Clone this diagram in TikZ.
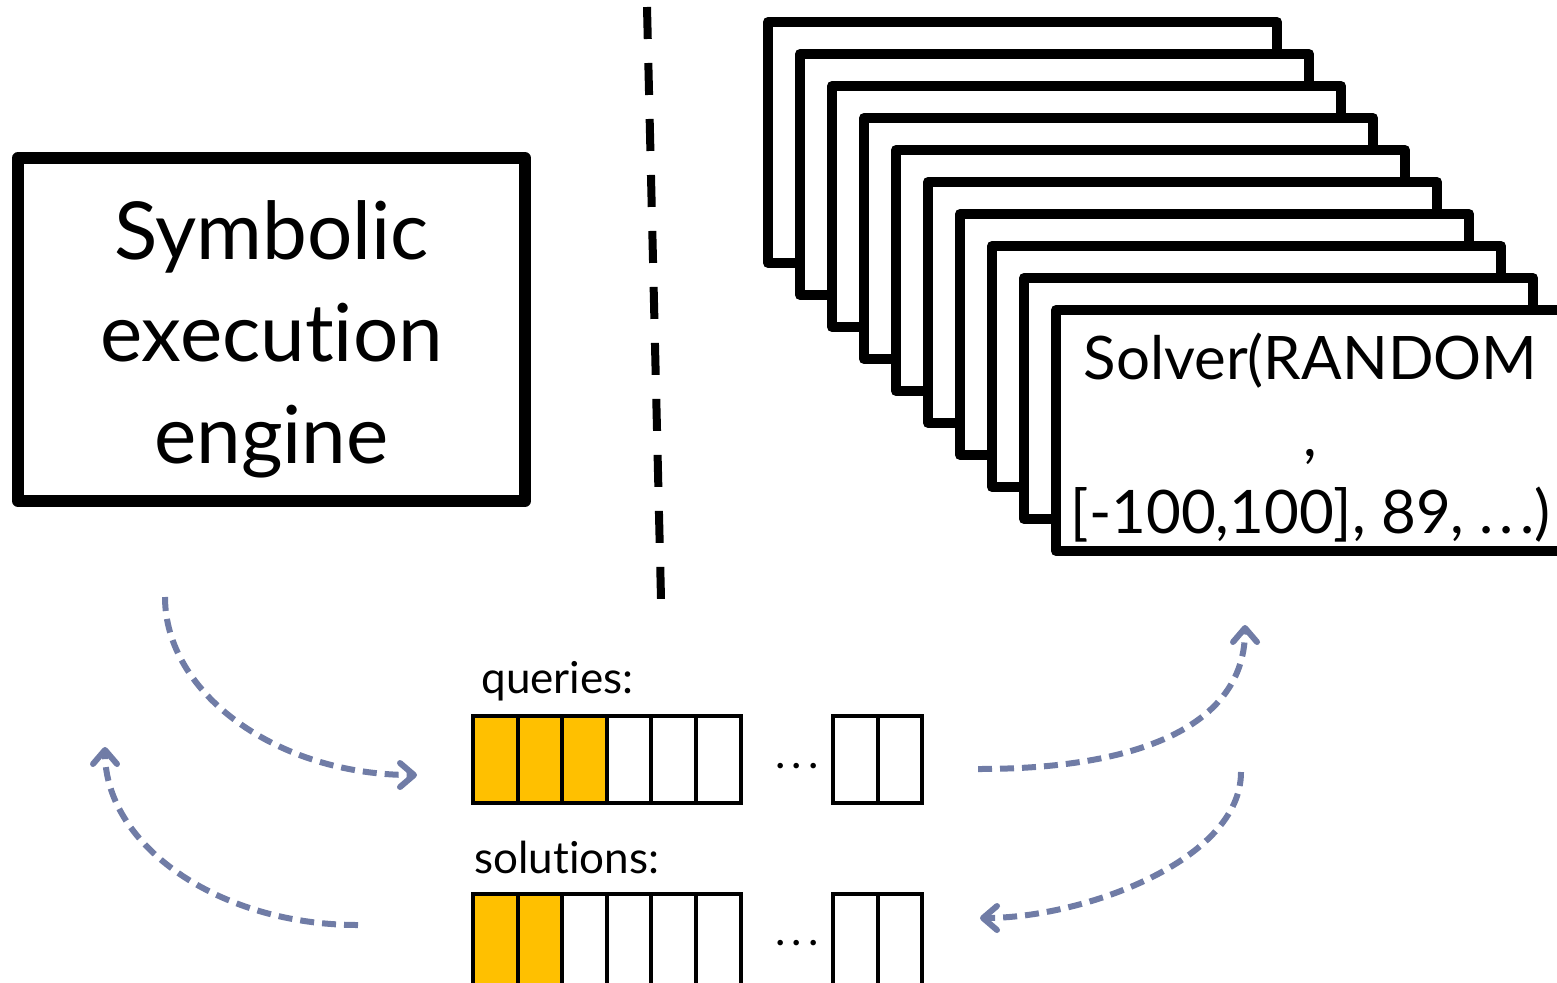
\documentclass[tikz,border=0pt]{standalone}
\usepackage{fontspec}
\setmainfont{Lato}[Ligatures=NoCommon]
\usetikzlibrary{arrows.meta}

\definecolor{qyellow}{RGB}{255,192,0}
\definecolor{flowblue}{RGB}{112,124,166}
\newcommand{\wdots}[1]{.\kern#1.\kern#1.}

\begin{document}
\begin{tikzpicture}[x=1pt,y=-1pt,
		card/.style={draw, fill=white, line width=10pt, line join=round, anchor=north west,
			outer sep=0pt, inner sep=0pt, minimum width=509pt, minimum height=241pt},
		cell/.style={draw, line width=4pt, anchor=north west, outer sep=0pt, inner sep=0pt,
			minimum width=44.6pt, minimum height=87pt},
		flow/.style={draw=flowblue, line width=6pt, dash pattern=on 14pt off 8pt,
			-{Straight Barb[length=14pt,width=24pt,round]}},
		tag/.style={anchor=base west, font=\fontsize{44}{50}\selectfont}]
	\useasboundingbox (0,0) rectangle (1557,982);
		\node[draw, line width=12pt, line join=round, minimum width=507pt, minimum height=343pt]
			(engine) at (271.5,329.5) {};
		\node[align=center, font=\fontsize{80}{102}\selectfont] (enginetext)
			at ([yshift=-10pt]engine.center) {Symbolic\\execution\\engine};
		\coordinate (topcut) at (647,7);
		\coordinate (botcut) at (661,599);
		\draw[line width=8pt, dash pattern=on 32pt off 24pt] (topcut) -- (botcut);
	% stack of solvers
		\foreach \i in {0,...,9}
			\node[card] (card\i) at (768+32*\i, 22+32*\i) {};
		\node[align=center, font=\fontsize{60}{77}\selectfont] (solver) at ([yshift=-7pt]card9.center)
			{Solver(RANDOM\\,\\{}[-100,100], 89, \wdots{6pt})};
	% queues
		\node[tag] (qlabel) at (478,693) {queries:};
		\foreach \i/\f in {0/qyellow,1/qyellow,2/qyellow,3/white,4/white,5/white}
			\node[cell, fill=\f] (q\i) at (473+44.6*\i, 716) {};
		\node[font=\fontsize{44}{50}\selectfont] (qdots) at (797,766) {\wdots{6pt}};
		\node[cell] (q6) at (833,716) {};
		\node[cell] (q7) at (877.6,716) {};
		\node[tag] (slabel) at (471,873) {solutions:};
		\foreach \i/\f in {0/qyellow,1/qyellow,2/white,3/white,4/white,5/white}
			\node[cell, fill=\f, minimum height=95pt] (s\i) at (473+44.6*\i, 894) {};
		\node[font=\fontsize{44}{50}\selectfont] (sdots) at (797,943) {\wdots{6pt}};
		\node[cell, minimum height=95pt] (s6) at (833,894) {};
		\node[cell, minimum height=95pt] (s7) at (877.6,894) {};
	% flows
		\coordinate (askout) at (165,597);
		\coordinate (askin) at (417,775);
		\coordinate (getout) at (358,925);
		\coordinate (getin) at (105,747);
		\coordinate (sendout) at (978,769);
		\coordinate (sendin) at (1245,625);
		\coordinate (backout) at (1241,772);
		\coordinate (backin) at (980,918);
		\draw[flow] (askout) .. controls (165,694) and (278,775) .. (askin);
		\draw[flow] (getout) .. controls (218,925) and (105,845) .. (getin);
		\draw[flow] (sendout) .. controls (1152,769) and (1245,719) .. (sendin);
		\draw[flow] (backout) .. controls (1241,860) and (1084,918) .. (backin);
\end{tikzpicture}
\end{document}
